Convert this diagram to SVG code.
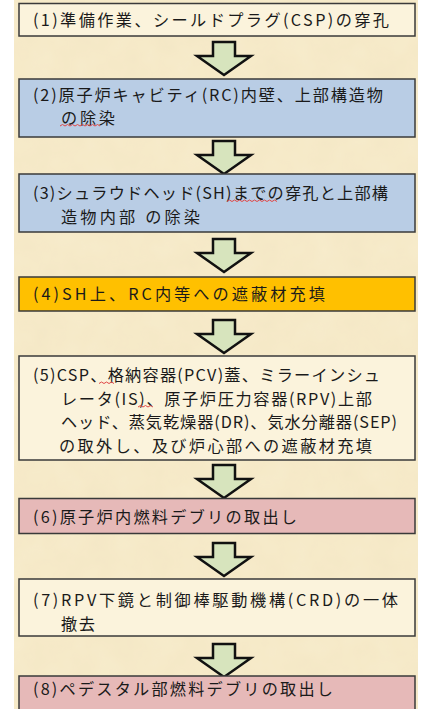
<svg xmlns="http://www.w3.org/2000/svg" width="430" height="709" viewBox="0 0 430 709">
<defs>
<style>
.bg{fill:#F8ECCC}
.box{stroke:#3a3a3a;stroke-width:1.5}
.plain{fill:#FBF3DC}
.blue{fill:#B9CDE5}
.gold{fill:#FFC000}
.pink{fill:#E6B9B8}
.t{font-family:"Noto Sans CJK JP","Noto Sans CJK SC",sans-serif;font-size:16.2px;fill:#1a1a1a}
.arrow{fill:#D7E4BD;stroke:#111;stroke-width:2.5;stroke-linejoin:miter}
.sq{fill:none;stroke:#E04848;stroke-width:1}
</style>
<filter id="tex" x="0" y="0" width="1" height="1">
<feTurbulence type="fractalNoise" baseFrequency="0.035" numOctaves="3" seed="4" result="n"/>
<feColorMatrix in="n" type="matrix" values="0 0 0 0 0.78  0 0 0 0 0.66  0 0 0 0 0.4  0 0 0 0.22 0" result="c"/>
<feComposite in="c" in2="SourceGraphic" operator="in" result="m"/>
<feMerge><feMergeNode in="SourceGraphic"/><feMergeNode in="m"/></feMerge>
</filter>
<path id="arr" d="M-11,0 H11 V14 H27 L0,33 L-27,14 H-11 Z"/>
</defs>
<rect x="0" y="0" width="430" height="709" fill="#FFFFFF"/>
<rect class="bg" x="14" y="0" width="404" height="709" filter="url(#tex)"/>

<g id="connectors">
<use href="#arr" class="arrow" x="224" y="42"/>
<use href="#arr" class="arrow" x="224" y="141"/>
<use href="#arr" class="arrow" x="224" y="239"/>
<use href="#arr" class="arrow" x="224" y="320"/>
<use href="#arr" class="arrow" x="224" y="465"/>
<use href="#arr" class="arrow" x="224" y="543"/>
<use href="#arr" class="arrow" x="224" y="644"/>
</g>

<g id="step1">
<rect class="box plain" x="19" y="3.5" width="396" height="32.5"/>
<text class="t" x="33" y="26" textLength="356">(1)準備作業、シールドプラグ(CSP)の穿孔</text>
</g>

<g id="step2">
<rect class="box blue" x="19" y="79" width="396" height="58"/>
<text class="t"><tspan x="33" y="100.5" textLength="350">(2)原子炉キャビティ(RC)内壁、上部構造物</tspan><tspan x="61" y="124" textLength="54">の除染</tspan></text>
<path class="sq" d="M60,126 l2.5,-1.5 l2.5,1.5 l2.5,-1.5 l2.5,1.5 l2.5,-1.5 l2.5,1.5 l2.5,-1.5 l2.5,1.5 l2.5,-1.5 l2.5,1.5 l2.5,-1.5 l2.5,1.5 l2.5,-1.5 l2.5,1.5 l2.5,-1.5 l2.5,1.5"/>
</g>

<g id="step3">
<rect class="box blue" x="19" y="174" width="396" height="58"/>
<text class="t"><tspan x="33" y="199" textLength="355">(3)シュラウドヘッド(SH)までの穿孔と上部構</tspan><tspan x="61" y="222.5" textLength="139">造物内部 の除染</tspan></text>
<path class="sq" d="M227,201.5 l2.5,-1.5 l2.5,1.5 l2.5,-1.5 l2.5,1.5 l2.5,-1.5 l2.5,1.5 l2.5,-1.5 l2.5,1.5 l2.5,-1.5 l2.5,1.5 l2.5,-1.5 l2.5,1.5 l2.5,-1.5 l2.5,1.5 l2.5,-1.5 l2.5,1.5 l2.5,-1.5 l2.5,1.5 l2.5,-1.5 l2.5,1.5"/>
</g>

<g id="step4">
<rect class="box gold" x="19" y="277" width="396" height="34"/>
<text class="t" x="33" y="300" textLength="292">(4)SH上、RC内等への遮蔽材充填</text>
</g>

<g id="step5">
<rect class="box plain" x="19" y="356" width="396" height="104"/>
<text class="t"><tspan x="33" y="381" textLength="347">(5)CSP、格納容器(PCV)蓋、ミラーインシュ</tspan><tspan x="61" y="404.5" textLength="311">レータ(IS)、原子炉圧力容器(RPV)上部</tspan><tspan x="61" y="428" textLength="336">ヘッド、蒸気乾燥器(DR)、気水分離器(SEP)</tspan><tspan x="59" y="451.5" textLength="313">の取外し、及び炉心部への遮蔽材充填</tspan></text>
<path class="sq" d="M99,383.5 l2.5,-1.5 l2.5,1.5 l2.5,-1.5 l2.5,1.5 l2.5,-1.5 l2.5,1.5"/>
<path class="sq" d="M138,407 l2.5,-1.5 l2.5,1.5 l2.5,-1.5 l2.5,1.5 l2.5,-1.5 l2.5,1.5"/>
</g>

<g id="step6">
<rect class="box pink" x="19" y="498.5" width="396" height="35"/>
<text class="t" x="33" y="523" textLength="264">(6)原子炉内燃料デブリの取出し</text>
</g>

<g id="step7">
<rect class="box plain" x="19" y="579" width="396" height="57"/>
<text class="t"><tspan x="33" y="606" textLength="365">(7)RPV下鏡と制御棒駆動機構(CRD)の一体</tspan><tspan x="61" y="629.5" textLength="34">撤去</tspan></text>
</g>

<g id="step8">
<rect class="box pink" x="19" y="676" width="396" height="40"/>
<text class="t" x="33" y="695" textLength="300">(8)ペデスタル部燃料デブリの取出し</text>
</g>
</svg>
